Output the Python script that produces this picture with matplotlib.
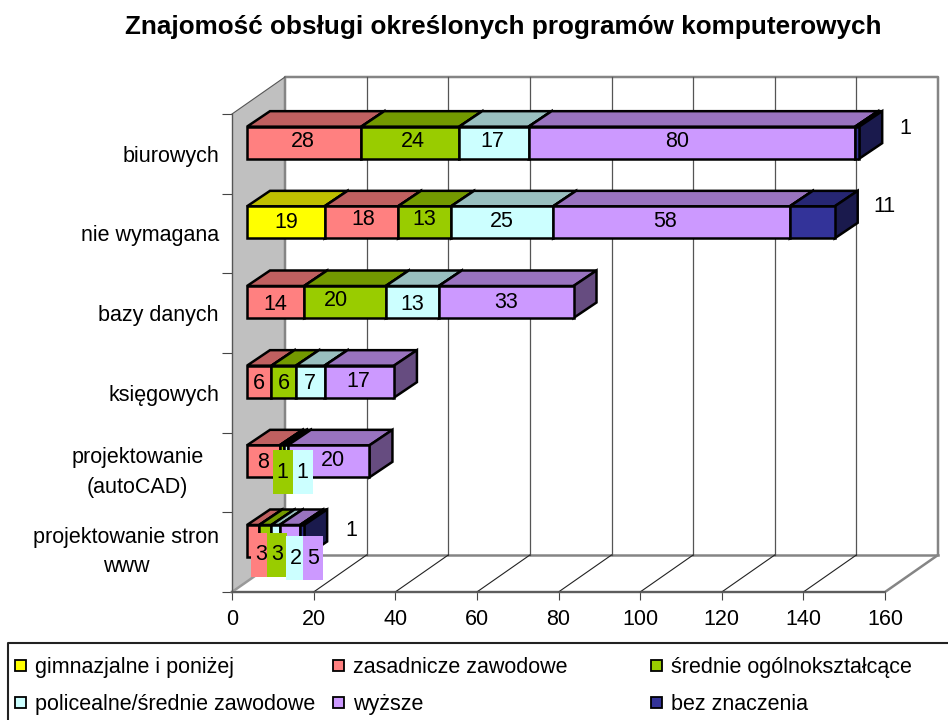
import matplotlib
matplotlib.use('Agg')
import matplotlib.pyplot as plt
from matplotlib.patches import Rectangle

plt.rcParams['font.family'] = ['Liberation Sans', 'DejaVu Sans']

# data, top row of the chart first
categories = ['biurowych', 'nie wymagana', 'bazy danych', 'księgowych',
              'projektowanie\n(autoCAD)', 'projektowanie stron\nwww']
series_names = ['gimnazjalne i poniżej', 'zasadnicze zawodowe', 'średnie ogólnokształcące',
                'policealne/średnie zawodowe', 'wyższe', 'bez znaczenia']
gimnazjalne = [0, 19, 0, 0, 0, 0]
zasadnicze = [28, 18, 14, 6, 8, 3]
srednie = [24, 13, 20, 6, 1, 3]
policealne = [17, 25, 13, 7, 1, 2]
wyzsze = [80, 58, 33, 17, 20, 5]
bez_znaczenia = [1, 11, 0, 0, 0, 1]
series = [gimnazjalne, zasadnicze, srednie, policealne, wyzsze, bez_znaczenia]
xticks = [0, 20, 40, 60, 80, 100, 120, 140, 160]

# colours per series: front, top, side
front = ['#FFFF00', '#FF8080', '#99CC00', '#CCFFFF', '#CC99FF', '#333399']
top = ['#BFBF00', '#BF6060', '#739900', '#99BFBF', '#9973BF', '#262673']
side = ['#808000', '#804040', '#4D6600', '#668080', '#664C80', '#1A1A4D']

# label nudges in pixels (row, then series), the original chart has them all over the place
label_dx = [[0, -1, 3, -2, -15, 48],
            [0, 2, 0, 0, -6, 72],
            [0, 0, -9, 0, 0, 0],
            [0, 0, 0, 0, -1, 0],
            [0, 0, 1, 17, 4, 0],
            [0, 8, 12, 20, 23, 49]]
label_dy = [[0, -3, -3, -3, -3, -16],
            [-2, -5, -5, -3, -3, -18],
            [0, 0, -3, 0, -2, 0],
            [0, 0, 0, 0, -2, 0],
            [0, -1, 9, 9, -3, 0],
            [0, 12, 12, 15, 15, -12]]
boxed = [(4, 2), (4, 3), (5, 1), (5, 2), (5, 3), (5, 4)]

FS = 15.5
W, H = 948, 720
X0, X1 = 232, 885      # front plane, pixels
Y0, Y1 = 592, 114
sx = (X1 - X0) / 160   # pixels per value
sy = (Y0 - Y1) / 6     # pixels per row

fig = plt.figure(figsize=(W / 100, H / 100), dpi=100)
ax = fig.add_axes([X0 / W, 1 - Y0 / H, (X1 - X0) / W, (Y0 - Y1) / H])
ax.set_xlim(0, 160)
ax.set_ylim(0, 6)
ax.patch.set_visible(False)

wall_dx, wall_dy = 53 / sx, 37 / sy
bar_dx, bar_dy = 23 / sx, 15.5 / sy
bar_start = 15 / sx
bar_h = 32 / sy
bar_base = 35 / sy

# walls and floor
ax.fill([0, wall_dx, wall_dx, 0], [0, wall_dy, 6 + wall_dy, 6], color='#C0C0C0', lw=0, clip_on=False, zorder=1)
ax.plot([wall_dx, wall_dx, 160 + wall_dx, 160 + wall_dx, 160, 0],
        [wall_dy, 6 + wall_dy, 6 + wall_dy, wall_dy, 0, 0], color='#858585', lw=1.8, clip_on=False, zorder=2)
ax.plot([wall_dx, 160 + wall_dx], [wall_dy, wall_dy], color='#858585', lw=1.8, clip_on=False, zorder=2)
ax.plot([0, wall_dx], [0, wall_dy], color='#999999', lw=1.8, clip_on=False, zorder=2)
ax.plot([0, wall_dx], [6, 6 + wall_dy], color='#555555', lw=0.8, clip_on=False, zorder=2)
for t in xticks[1:-1]:
    ax.plot([t + wall_dx, t + wall_dx], [wall_dy, 6 + wall_dy], color='#555555', lw=0.9, clip_on=False, zorder=2)
    ax.plot([t, t + wall_dx], [0, wall_dy], color='#222222', lw=0.8, clip_on=False, zorder=2)

# stacked bars
z = 3
for row in range(len(categories)):
    y = 5 - row + bar_base
    left = bar_start
    for s in range(len(series)):
        v = series[s][row]
        if v == 0:
            continue
        ax.fill([left, left + bar_dx, left + v + bar_dx, left + v],
                [y + bar_h, y + bar_h + bar_dy, y + bar_h + bar_dy, y + bar_h],
                facecolor=top[s], edgecolor='black', lw=1.8, clip_on=False, zorder=z)
        ax.fill([left + v, left + v + bar_dx, left + v + bar_dx, left + v],
                [y, y + bar_dy, y + bar_h + bar_dy, y + bar_h],
                facecolor=side[s], edgecolor='black', lw=1.8, clip_on=False, zorder=z)
        ax.barh(y, v, height=bar_h, left=left, align='edge', color=front[s],
                edgecolor='black', lw=1.8, clip_on=False, zorder=z + 0.5)
        left += v
        z += 1

# data labels go on top of everything
z = 100
for row in range(len(categories)):
    y = 5 - row + bar_base
    left = bar_start
    for s in range(len(series)):
        v = series[s][row]
        if v == 0:
            continue
        tx = left + v / 2 + label_dx[row][s] / sx
        ty = y + bar_h / 2 - label_dy[row][s] / sy
        if (row, s) in boxed:
            ax.add_patch(Rectangle((tx - 10 / sx, ty - 24 / sy), 20 / sx, 44 / sy, facecolor=front[s],
                                   edgecolor='none', clip_on=False, zorder=z))
        ax.text(tx, ty - 7.5 / sy, str(v), ha='center', va='baseline', fontsize=FS, color='black', zorder=z + 0.5)
        left += v
        z += 1

# axes
for name in ['top', 'right']:
    ax.spines[name].set_visible(False)
ax.spines['left'].set_color('#555555')
ax.spines['left'].set_linewidth(1.0)
ax.spines['bottom'].set_color('#555555')
ax.spines['bottom'].set_linewidth(1.2)
ax.set_xticks(xticks)
ax.tick_params(axis='x', length=6, width=0.8, color='#444444', labelsize=FS, pad=6.5)
ax.set_yticks(range(7))
ax.set_yticklabels([])
ax.tick_params(axis='y', which='major', length=7, width=0.8, color='#444444')
ax.set_yticks([5.5 - i for i in range(6)], minor=True)
ax.set_yticklabels(categories, minor=True, fontsize=FS, multialignment='center', linespacing=1.5)
ax.tick_params(axis='y', which='minor', length=0, pad=9.4)
ax.yaxis.get_minor_ticks()[4].set_pad(20.5)
# two line labels sit a bit too low otherwise
for i in [4, 5]:
    ax.yaxis.get_minor_ticks()[i].label1.set_verticalalignment('center')

# title and legend, in pixel coordinates
over = fig.add_axes([0, 0, 1, 1])
over.set_xlim(0, W)
over.set_ylim(H, 0)
over.axis('off')
over.text(503, 34, 'Znajomość obsługi określonych programów komputerowych',
          ha='center', va='baseline', fontsize=18.8, fontweight='bold')

over.plot([W + 5, 8, 8], [643, 643, H + 5], color='#222222', lw=1.5, clip_on=False)
legend_x = [15, 333, 651, 15, 333, 651]
legend_y = [666, 666, 666, 703, 703, 703]
for s in range(6):
    over.add_patch(Rectangle((legend_x[s], legend_y[s] - 6), 11, 11, facecolor=front[s],
                             edgecolor='black', lw=1.3))
    over.text(legend_x[s] + 20, legend_y[s] + 7, series_names[s], ha='left', va='baseline', fontsize=FS)

fig.savefig('out.png', dpi=100)
